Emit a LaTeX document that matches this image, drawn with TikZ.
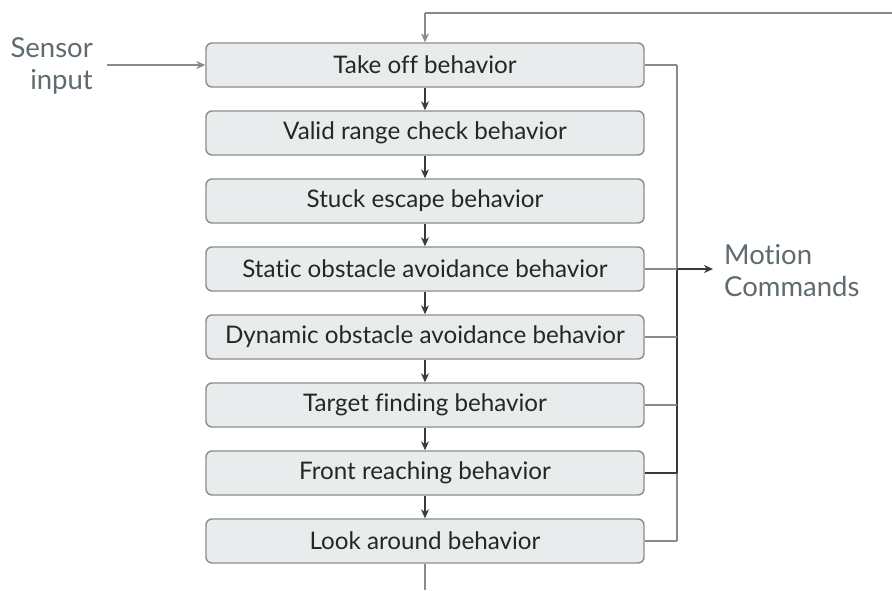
\documentclass[tikz,border=0pt]{standalone}
\usepackage{fontspec}
\setmainfont[Ligatures=NoCommon]{Lato}
\usetikzlibrary{arrows.meta}
\definecolor{boxfill}{HTML}{E8ECED}
\definecolor{boxline}{HTML}{8C8C8C}
\definecolor{wire}{HTML}{8A8A8A}
\definecolor{darkwire}{HTML}{3A3A3A}
\definecolor{labeltext}{HTML}{5F6B70}
\definecolor{boxtext}{HTML}{262626}
\tikzset{
  stagebox/.style={draw=boxline, fill=boxfill, line width=1.4pt, rounded corners=6pt,
    minimum width=438pt, minimum height=44pt, inner sep=0pt,
    font=\fontsize{24.2}{28}\selectfont, text=boxtext},
  flowarr/.style={draw=darkwire, line width=1.2pt, -{Stealth[length=9pt,width=8pt]}},
  wireline/.style={draw=wire, line width=1.4pt},
  darkline/.style={draw=darkwire, line width=1.6pt},
  sidelabel/.style={font=\fontsize{27.5}{32}\selectfont, text=labeltext, inner sep=0pt}
}
\begin{document}
\begin{tikzpicture}[x={(1pt,0)}, y={(0,-1pt)}]
\useasboundingbox (0,0) rectangle (892,590);
\node[stagebox] (b1) at (425,65)  {Take off behavior};
\node[stagebox] (b2) at (425,133) {Valid range check behavior};
\node[stagebox] (b3) at (425,201) {Stuck escape behavior};
\node[stagebox] (b4) at (425,269) {Static obstacle avoidance behavior};
\node[stagebox] (b5) at (425,337) {Dynamic obstacle avoidance behavior};
\node[stagebox] (b6) at (425,405) {Target finding behavior};
\node[stagebox] (b7) at (425,473) {Front reaching behavior};
\node[stagebox] (b8) at (425,541) {Look around behavior};

\node[sidelabel, align=right, anchor=east] (sensor) at (93,66) {Sensor\\input};
\node[sidelabel, align=left, anchor=west] (motion) at (724,271) {Motion\\Commands};

\coordinate (fbR) at (892,13);
\coordinate (busT) at (677,65);
\coordinate (busB) at (677,541);
\coordinate (busM) at (677,269);
\coordinate (busD) at (677,473);
\coordinate (mcEnd) at (713,269);
\coordinate (bot) at (425,590);
\coordinate (sensStart) at (107,65);

% feedback and input
\draw[wireline] (fbR) -- (fbR -| b1.north);
\draw[flowarr, draw=wire] (fbR -| b1.north) -- (b1.north);
\draw[flowarr, draw=wire] (sensStart) -- (b1.west);
\draw[wireline] (b8.south) -- (bot);

% chain
\draw[flowarr] (b1.south) -- (b2.north);
\draw[flowarr] (b2.south) -- (b3.north);
\draw[flowarr] (b3.south) -- (b4.north);
\draw[flowarr] (b4.south) -- (b5.north);
\draw[flowarr] (b5.south) -- (b6.north);
\draw[flowarr] (b6.south) -- (b7.north);
\draw[flowarr] (b7.south) -- (b8.north);

% bus
\draw[wireline] (busT) -- (busB);
\draw[darkline] (busM) -- (busD);
\draw[wireline] (b1.east) -- (b1.east -| busT);
\draw[wireline] (b4.east) -- (b4.east -| busT);
\draw[wireline] (b5.east) -- (b5.east -| busT);
\draw[wireline] (b6.east) -- (b6.east -| busT);
\draw[darkline] (b7.east) -- (b7.east -| busT);
\draw[wireline] (b8.east) -- (b8.east -| busT);
\draw[flowarr, line width=1.6pt] (busM) -- (mcEnd);
\end{tikzpicture}
\end{document}
